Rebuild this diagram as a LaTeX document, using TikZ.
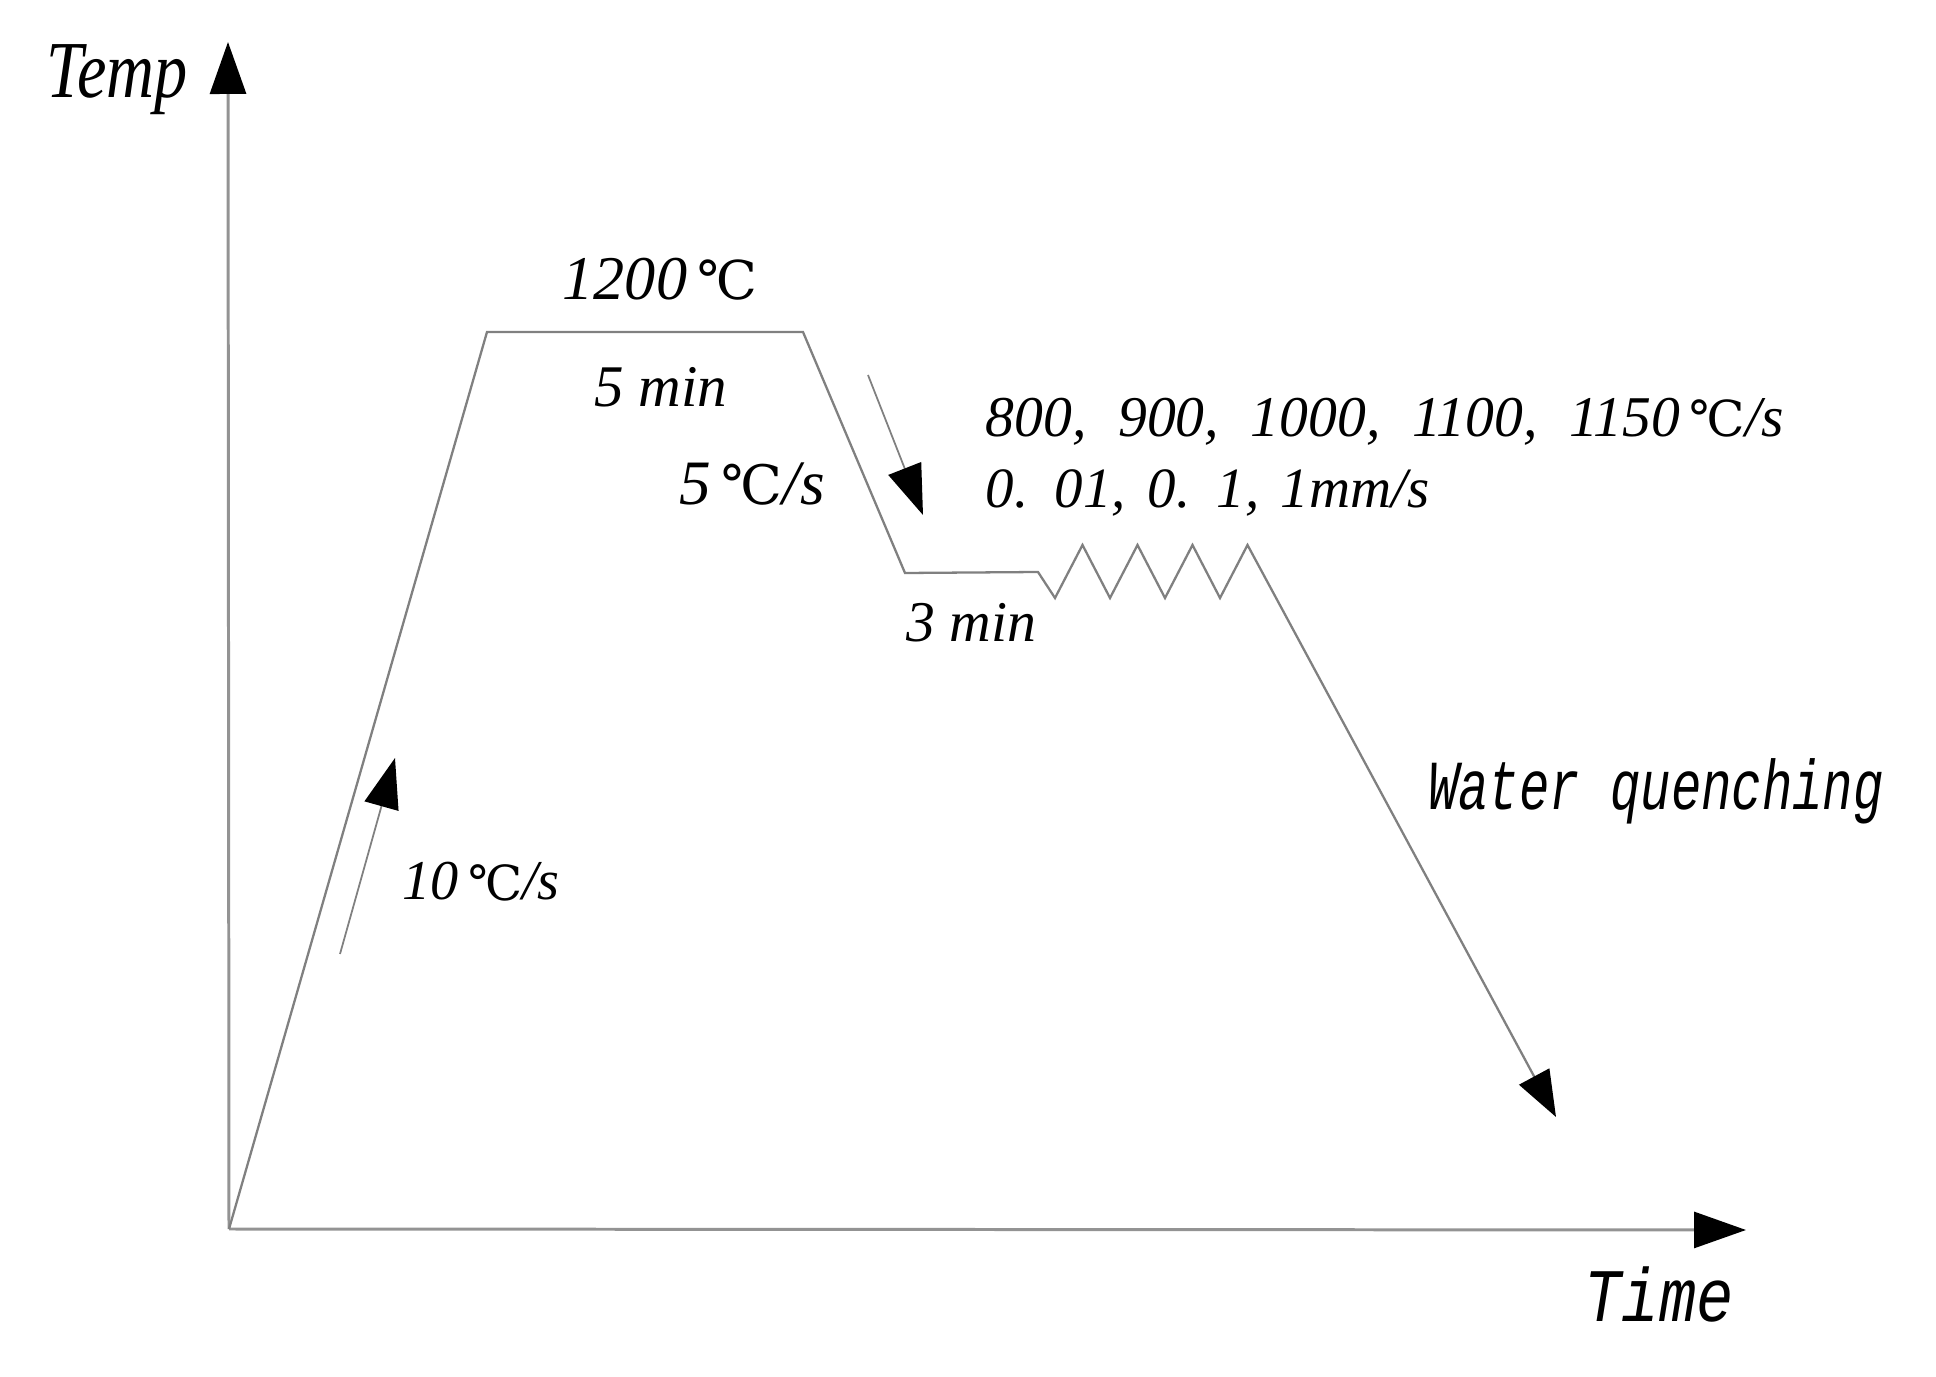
\documentclass[tikz,border=0pt]{standalone}
\usepackage{fontspec}
\setmainfont{Liberation Serif}
\newfontfamily\tempfont[FakeStretch=0.82]{Liberation Serif}
\newfontfamily\quenchfont[FakeStretch=0.72]{Liberation Mono}
\newfontfamily\timefont[FakeStretch=0.82]{Liberation Mono}
\newfontfamily\celsfont{DejaVu Serif}
\newcommand{\degc}{\,\scalebox{0.86}{\celsfont\upshape ℃}}
\newcommand{\widegap}{\spaceskip=0.55em\relax}
\newcommand{\midgap}{\spaceskip=0.38em\relax}
\usetikzlibrary{arrows.meta}

\begin{document}
\begin{tikzpicture}
[% STYLES
% The axis style is used for both axes
axis/.style={draw=gray!85, line width=0.85pt, -{Triangle[length=5.2mm, width=3.6mm, color=black]}},
% The curve style is used for the temperature profile
curve/.style={draw=gray, line width=0.65pt, line join=miter},
% The rate style is used for the small arrows beside the ramps
rate/.style={draw=gray, line width=0.5pt, -{Triangle[length=5mm, width=3.5mm, color=black]}},
tag/.style={inner sep=0pt, anchor=base, font=\itshape}]

\useasboundingbox (0,0) rectangle (19.36,13.76);

% Draw axes
\coordinate (origin) at (2.29,1.47);
\coordinate (ytop) at (2.28,13.34);
\coordinate (xend) at (17.46,1.46);
\draw [axis] (origin) -- (ytop);
\draw [axis] (origin) -- (xend);
\node [tag, font=\tempfont\itshape\fontsize{23}{26}\selectfont] (temp) at (1.17,12.78) {Temp};
\node [tag, font=\timefont\itshape\fontsize{21.5}{24}\selectfont] (time) at (16.59,0.55) {Time};

% Draw profile
\coordinate (heat) at (4.87,10.44);
\coordinate (soak) at (8.03,10.44);
\coordinate (hold) at (9.05,8.03);
\coordinate (holdend) at (10.38,8.04);
\coordinate (quench) at (15.56,2.59);
\draw [curve, -{Triangle[length=4.6mm, width=3.4mm, color=black]}] (origin) -- (heat) -- (soak) -- (hold) -- (holdend)
  \foreach \i in {0,...,3} { -- ({10.55+0.55*\i},7.78) -- ({10.825+0.55*\i},8.31) } -- (quench);

% Draw rate arrows
\coordinate (up0) at (3.40,4.22);
\coordinate (up1) at (3.95,6.18);
\draw [rate] (up0) -- (up1);
\coordinate (dn0) at (8.68,10.01);
\coordinate (dn1) at (9.23,8.61);
\draw [rate] (dn0) -- (dn1);

% Draw labels
\node [tag, font=\itshape\fontsize{17.7}{20}\selectfont] (soaktemp) at (6.60,10.76) {1200\degc};
\node [tag, font=\itshape\fontsize{16.8}{20}\selectfont] (soaktime) at (6.61,9.69) {5 min};
\node [tag, font=\itshape\fontsize{18}{20}\selectfont] (coolrate) at (7.52,8.71) {5\degc/s};
\node [tag, font=\itshape\fontsize{16.4}{20}\selectfont] (holdtime) at (9.71,7.34) {3 min};
\node [tag, anchor=base west, font=\itshape\fontsize{16.4}{18}\selectfont] (deftemp) at (9.85,9.39) {\widegap 800, 900, 1000, 1100, 1150\degc/s};
\node [tag, anchor=base west, font=\itshape\fontsize{16.2}{18}\selectfont] (defrate) at (9.85,8.68) {\midgap 0. 01, 0. 1, 1mm/s};
\node [tag, font=\itshape\fontsize{16}{18}\selectfont] (heatrate) at (4.81,4.76) {10\degc/s};
\node [tag, font=\quenchfont\itshape\fontsize{20}{24}\selectfont] (quenching) at (16.56,5.66) {Water quenching};

\end{tikzpicture}
\end{document}
